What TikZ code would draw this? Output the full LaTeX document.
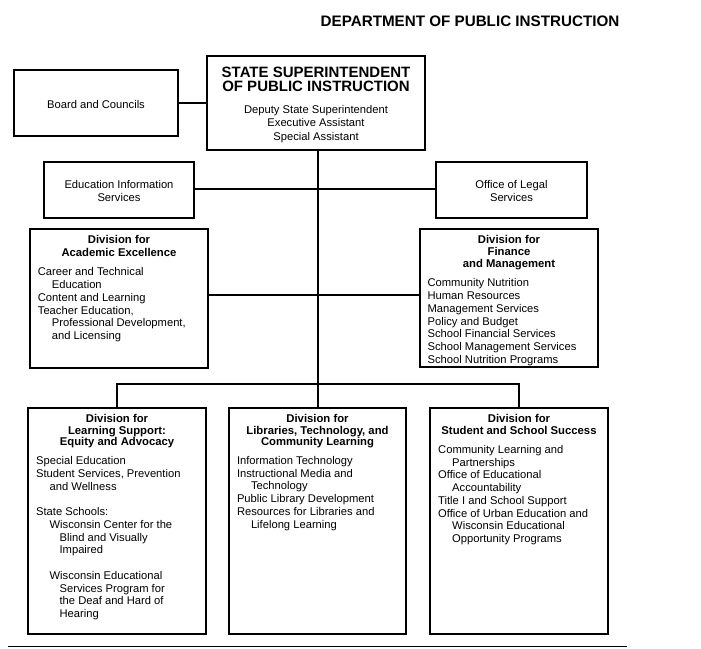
\documentclass[tikz,border=0pt]{standalone}
\usepackage{fontspec}
\setmainfont{Liberation Sans}
\newcommand\fstr[1]{\rule{0pt}{#1}}
\tikzset{
  box/.style={draw, line width=2pt, inner sep=0pt, outer sep=0pt, anchor=north west},
  conn/.style={line width=2pt},
  body/.style={inner sep=0pt, align=left, anchor=north west, font=\fontsize{11.2}{12.7}\selectfont},
  bodyc/.style={inner sep=0pt, align=center, anchor=north, font=\fontsize{11.2}{13.4}\selectfont},
  head/.style={inner sep=0pt, align=center, anchor=north, font=\bfseries\fontsize{11.3}{12}\selectfont},
}
\begin{document}
\begin{tikzpicture}[x=1pt, y=-1pt]
\useasboundingbox (0,0) rectangle (701,648);
% title
\node[inner sep=0pt, anchor=north, font=\bfseries\fontsize{15.2}{15}\selectfont] (title) at (470,14.4) {\fstr{12pt}DEPARTMENT OF PUBLIC INSTRUCTION};
% boxes
\node[box, minimum width=164pt, minimum height=66pt] (board) at (14,70) {};
\node[box, minimum width=218pt, minimum height=94pt] (sup) at (207,56) {};
\node[box, minimum width=150pt, minimum height=56pt] (eis) at (44,162) {};
\node[box, minimum width=151pt, minimum height=56pt] (legal) at (436,162) {};
\node[box, minimum width=178pt, minimum height=139pt] (acad) at (30,229) {};
\node[box, minimum width=178pt, minimum height=138pt] (fin) at (420,229) {};
\node[box, minimum width=178pt, minimum height=226pt] (ls) at (28,408) {};
\node[box, minimum width=177pt, minimum height=226pt] (lib) at (229,408) {};
\node[box, minimum width=178pt, minimum height=226pt] (sss) at (430,408) {};
% texts
\node[bodyc] (boardt) at (96,98.5) {\fstr{9.5pt}Board and Councils};
\node[inner sep=0pt, align=center, anchor=north, font=\bfseries\fontsize{15}{14.5}\selectfont] (supt) at (316,64.9) {\fstr{12pt}STATE SUPERINTENDENT\\OF PUBLIC INSTRUCTION};
\node[bodyc, font=\fontsize{11.2}{13.5}\selectfont] (sups) at (316,103.5) {\fstr{9.5pt}Deputy State Superintendent\\Executive Assistant\\Special Assistant};
\node[bodyc] (eist) at (119,178.8) {\fstr{9.5pt}Education Information\\Services};
\node[bodyc] (legalt) at (511.5,178.8) {\fstr{9.5pt}Office of Legal\\Services};
\node[head, font=\bfseries\fontsize{11.3}{13}\selectfont] (acadh) at ([yshift=-4.8pt]acad.north) {\fstr{9.5pt}Division for\\Academic Excellence};
\node[body] (acadi) at (37.7,266.2) {\fstr{9.5pt}Career and Technical\\
\hspace*{14pt}Education\\
Content and Learning\\
Teacher Education,\\
\hspace*{14pt}Professional Development,\\
\hspace*{14pt}and Licensing};
\node[head] (finh) at ([yshift=-4.8pt]fin.north) {\fstr{9.5pt}Division for\\Finance\\and Management};
\node[body] (fini) at (427.4,277.2) {\fstr{9.5pt}Community Nutrition\\Human Resources\\Management Services\\Policy and Budget\\School Financial Services\\School Management Services\\School Nutrition Programs};
\node[head, font=\bfseries\fontsize{11.3}{11.5}\selectfont] (lsh) at ([yshift=-4.8pt]ls.north) {\fstr{9.5pt}Division for\\Learning Support:\\Equity and Advocacy};
\node[body, font=\fontsize{11.2}{12.75}\selectfont] (lsi) at (35.9,454.8) {\fstr{9.5pt}Special Education\\
Student Services, Prevention\\
\hspace*{13.5pt}and Wellness\\[12.75pt]
State Schools:\\
\hspace*{13.5pt}Wisconsin Center for the\\
\hspace*{23.5pt}Blind and Visually\\
\hspace*{23.5pt}Impaired\\[12.75pt]
\hspace*{13.5pt}Wisconsin Educational\\
\hspace*{23.5pt}Services Program for\\
\hspace*{23.5pt}the Deaf and Hard of\\
\hspace*{23.5pt}Hearing};
\node[head, font=\bfseries\fontsize{11.3}{11.5}\selectfont] (libh) at ([yshift=-4.8pt]lib.north) {\fstr{9.5pt}Division for\\Libraries, Technology, and\\Community Learning};
\node[body, font=\fontsize{11.2}{12.8}\selectfont] (libi) at (236.8,454.5) {\fstr{9.5pt}Information Technology\\
Instructional Media and\\
\hspace*{14pt}Technology\\
Public Library Development\\
Resources for Libraries and\\
\hspace*{14pt}Lifelong Learning};
\node[head, font=\bfseries\fontsize{11.3}{11.5}\selectfont] (sssh) at ([yshift=-4.8pt]sss.north) {\fstr{9.5pt}Division for\\Student and School Success};
\node[body] (sssi) at (438,443.8) {\fstr{9.5pt}Community Learning and\\
\hspace*{14pt}Partnerships\\
Office of Educational\\
\hspace*{14pt}Accountability\\
Title I and School Support\\
Office of Urban Education and\\
\hspace*{14pt}Wisconsin Educational\\
\hspace*{14pt}Opportunity Programs};
% connectors
\draw[conn] (board.east) -- (board.east -| sup.west);
\draw[conn] (sup.south -| lib.north) -- (lib.north);
\coordinate (eisR) at ([yshift=1pt]eis.east);
\draw[conn] (eisR) -- (eisR -| legal.west);
\coordinate (acadR) at ([yshift=3.5pt]acad.east);
\draw[conn] (acadR) -- (acadR -| fin.west);
\coordinate (bus) at (318,384);
\draw[conn] (ls.north) |- (bus) -| (sss.north);
% bottom rule
\coordinate (rl) at (8,646.5);
\coordinate (rr) at (627,646.5);
\draw[line width=1pt] (rl) -- (rr);
\end{tikzpicture}
\end{document}
